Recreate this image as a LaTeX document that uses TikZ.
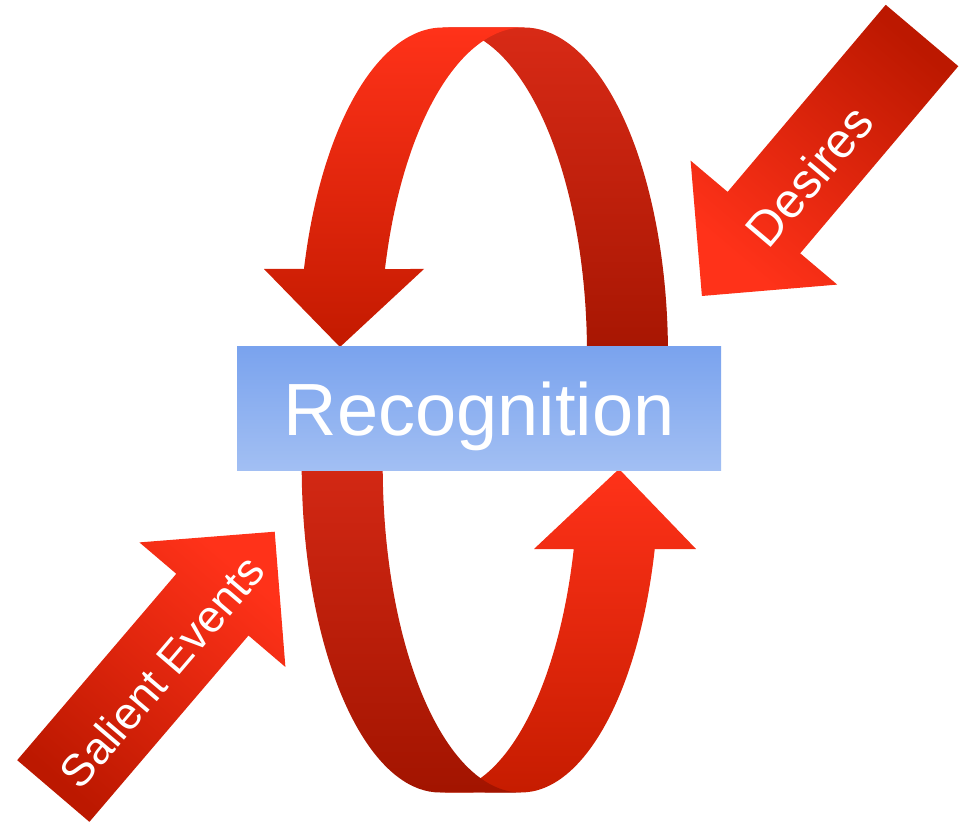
\documentclass[tikz,border=0pt]{standalone}
\usepackage{fontspec}
\setmainfont{Liberation Sans}
\begin{document}
\begin{tikzpicture}[x=1pt,y=1pt]
% palette
\definecolor{hot}{RGB}{255,50,25}
\definecolor{hotdeep}{RGB}{195,26,0}
\definecolor{hotbottom}{RGB}{198,28,0}
\definecolor{backtop}{RGB}{216,42,22}
\definecolor{backbot}{RGB}{162,20,0}
\definecolor{shaftbase}{RGB}{188,24,0}
\definecolor{boxtop}{RGB}{122,163,238}
\definecolor{boxbot}{RGB}{162,191,243}
\tikzset{
  recogbox/.style={minimum width=484pt, minimum height=123pt, inner sep=0pt,
    top color=boxtop, bottom color=boxbot, text=white,
    font=\fontsize{74}{88}\selectfont, text height=53pt, text depth=0pt},
  arrowlabel/.style={text=white, inner sep=0pt},
  upper/.style={x radius=144pt, y radius=326.5pt},
  lower/.style={x radius=138.3pt, y radius=326.5pt}
}
\useasboundingbox (0,0) rectangle (961,823);

% loop: upper back band (behind), then upper front band with its arrowhead
\shade[top color=backtop, bottom color=backbot]
  (443,795.5) arc[start angle=90, end angle=-5.1, upper]
  -- (667.4,440) arc[start angle=-5.1, end angle=90, upper] -- cycle;
\shade[top color=hot, bottom color=hotdeep]
  (303.97,554) arc[start angle=164.91, end angle=90, upper]
  -- (524,795.5) arc[start angle=90, end angle=164.91, upper]
  -- (424,554) -- (340,476) -- (264,554) -- cycle;

% loop: lower front band with its arrowhead, then lower back band over it
\shade[top color=hot, bottom color=hotbottom]
  (440,30.5) arc[start angle=270, end angle=345.27, lower]
  -- (534,274) -- (619,354) -- (696,274)
  -- (654.75,274) arc[start angle=345.27, end angle=270, lower] -- cycle;
\shade[top color=backtop, bottom color=backbot]
  (302.4,390) arc[start angle=174.2, end angle=270, lower]
  -- (521,30.5) arc[start angle=270, end angle=174.2, lower] -- cycle;

% central box
\node[recogbox] (recog) at (479,414.5) {Recognition};

% incoming block arrows
\shade[top color=hot, bottom color=shaftbase, shading angle=139.8]
  (885.7,818.2) -- (958.3,756.8) -- (800.2,569.7) -- (837.2,538.4)
  -- (701.9,527.0) -- (690.6,662.4) -- (727.6,631.1) -- cycle;
\node[arrowlabel, rotate=49.8, font=\fontsize{49}{58}\selectfont]
  (desires) at (809,647) {Desires};

\shade[top color=hot, bottom color=shaftbase, shading angle=-40.5]
  (89.4,1.15) -- (17.2,62.85) -- (176.3,249.2) -- (139.4,280.6)
  -- (274.7,291.3) -- (285.4,156.0) -- (248.5,187.5) -- cycle;
\node[arrowlabel, rotate=49.5, font=\fontsize{45}{54}\selectfont]
  (salient) at (161.7,151.3) {Salient Events};
\end{tikzpicture}
\end{document}
